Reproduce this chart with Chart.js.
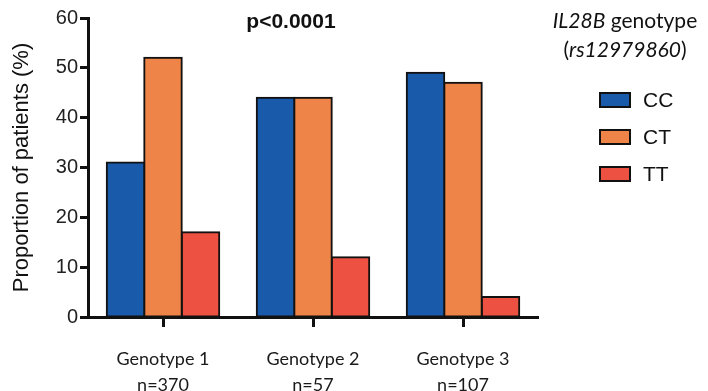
<!DOCTYPE html>
<html>
<head>
<meta charset="utf-8">
<script src="https://cdn.jsdelivr.net/npm/chart.js@4"></script>
<style>
  html, body { margin: 0; padding: 0; background: #fff; }
  #wrap { width: 708px; height: 391px; }
</style>
</head>
<body>
<div id="wrap"><canvas id="chart"></canvas></div>
<script>
// categories and series
const groups = [['Genotype 1', 'n=370'], ['Genotype 2', 'n=57'], ['Genotype 3', 'n=107']];
const ccValues = [31, 44, 49];
const ctValues = [52, 44, 47];
const ttValues = [17, 12, 4];
const seriesNames = ['CC', 'CT', 'TT'];
const seriesColors = ['#1a5aab', '#ee8448', '#ec5142'];
const yTicks = [0, 10, 20, 30, 40, 50, 60];

// text + legend drawn on the right
const overlay = {
  id: 'overlay',
  afterDraw(chart) {
    const c = chart.ctx;
    c.save();
    c.fillStyle = '#111';
    c.textBaseline = 'middle';
    c.textAlign = 'center';
    c.font = 'bold 21px "Liberation Sans", Arial, sans-serif';
    c.fillText('p<0.0001', 291, 22);

    // legend title: "IL28B genotype" with IL28B in italic
    c.textAlign = 'left';
    const it = 'italic 21px Lato, sans-serif';
    const rg = '21px Lato, sans-serif';
    c.font = it; const w1 = c.measureText('IL28B').width;
    c.font = rg; const w2 = c.measureText(' genotype').width;
    let x = 625 - (w1 + w2) / 2;
    c.font = it; c.fillText('IL28B', x, 21);
    c.font = rg; c.fillText(' genotype', x + w1, 21);
    const a = '(', b = 'rs12979860', d = ')';
    c.font = rg; const wa = c.measureText(a).width, wd = c.measureText(d).width;
    c.font = it; const wb = c.measureText(b).width;
    x = 625 - (wa + wb + wd) / 2;
    c.font = rg; c.fillText(a, x, 50);
    c.font = it; c.fillText(b, x + wa, 50);
    c.font = rg; c.fillText(d, x + wa + wb, 50);

    // legend items
    chart.data.datasets.forEach((ds, i) => {
      const y = 93 + i * 37;
      c.fillStyle = ds.backgroundColor;
      c.fillRect(600, y, 30, 14);
      c.lineWidth = 2;
      c.strokeStyle = '#111';
      c.strokeRect(600, y, 30, 14);
      c.fillStyle = '#111';
      c.font = '21px "Liberation Sans", Arial, sans-serif';
      c.fillText(ds.label, 643, y + 8);
    });
    c.restore();
  }
};

new Chart(document.getElementById('chart'), {
  type: 'bar',
  data: {
    labels: groups,
    datasets: [
      { label: seriesNames[0], data: ccValues, backgroundColor: seriesColors[0] },
      { label: seriesNames[1], data: ctValues, backgroundColor: seriesColors[1] },
      { label: seriesNames[2], data: ttValues, backgroundColor: seriesColors[2] },
    ].map(ds => ({
      ...ds,
      borderColor: '#111',
      borderWidth: 2,
      borderSkipped: false,
      inflateAmount: 1,
      categoryPercentage: 0.75,
      barPercentage: 1.0,
    })),
  },
  options: {
    responsive: true,
    maintainAspectRatio: false,
    animation: false,
    layout: { padding: { top: 18, right: 170, left: 0, bottom: 0 } },
    plugins: { legend: { display: false }, tooltip: { enabled: false } },
    scales: {
      x: {
        grid: { drawOnChartArea: false, offset: false, tickLength: 10, tickColor: '#111', tickWidth: 3 },
        border: { color: '#111', width: 3 },
        ticks: { color: '#1a1a1a', font: { family: 'Lato', size: 18, lineHeight: 1.45 }, padding: 19, maxRotation: 0 },
        afterFit: s => { s.height = 74; },
      },
      y: {
        min: 0,
        max: 60,
        afterBuildTicks: s => { s.ticks = yTicks.map(v => ({ value: v })); },
        grid: { drawOnChartArea: false, tickLength: 8, tickColor: '#111', tickWidth: 3 },
        border: { color: '#111', width: 3 },
        ticks: { color: '#222', font: { family: '"Liberation Sans", Arial', size: 20 }, padding: 2 },
        title: {
          display: true,
          text: 'Proportion of patients (%)',
          color: '#111',
          font: { family: '"Liberation Sans", Arial', size: 22 },
          padding: { top: 9, bottom: 0 },
        },
        afterFit: s => { s.width = 88; },
      },
    },
  },
  plugins: [overlay],
});
</script>
</body>
</html>
